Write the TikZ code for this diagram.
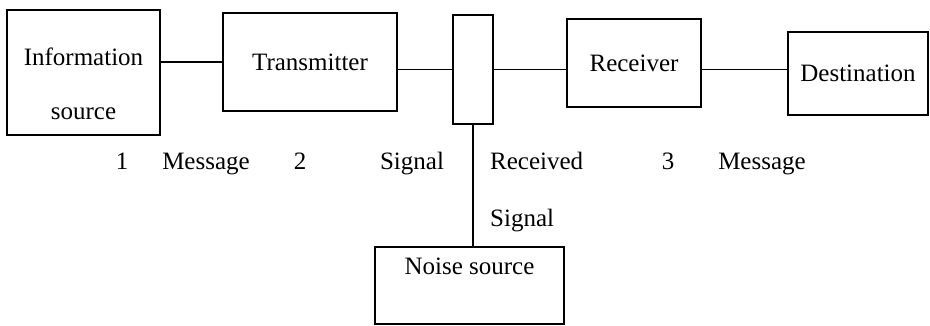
\documentclass[tikz,border=0pt]{standalone}
\usepackage{fontspec}
\setmainfont{Liberation Serif}
\usetikzlibrary{positioning,calc}

\begin{document}
\begin{tikzpicture}[
    x=1pt, y=-1pt,
    font=\fontsize{25}{30}\selectfont,
    block/.style={draw, line width=2pt, inner sep=0pt, align=center},
    tag/.style={inner sep=0pt, anchor=base},
    wire/.style={line width=1.2pt}
]
\useasboundingbox (0,0) rectangle (930,326);
\node[block, minimum width=153pt, minimum height=125pt, text height=94pt] (info) at (83.5,72.5) {Information\\[24pt]source};
\node[block, minimum width=174pt, minimum height=98pt] (trans) at (310,62) {Transmitter};
\node[block, minimum width=40pt, minimum height=109pt] (junc) at (473,69.5) {};
\node[block, minimum width=134pt, minimum height=88pt] (recv) at (634,63) {Receiver};
\node[block, minimum width=140pt, minimum height=83pt] (dest) at (858,73.5) {Destination};
\node[block, minimum width=189pt, minimum height=77pt, text depth=39pt] (noise) at (469.5,285.5) {Noise source};

\node[tag] (one) at (122,170) {1};
\node[tag] (msgin) at (206,170) {Message};
\node[tag] (two) at (300,170) {2};
\node[tag] (sig) at (412,170) {Signal};
\node[tag, anchor=base west] (rcvd) at (490,170) {Received};
\node[tag] (three) at (668,170) {3};
\node[tag] (msgout) at (762,170) {Message};
\node[tag, anchor=base west] (rsig) at (490,227) {Signal};

\draw[wire] (trans.west) -- (trans.west -| info.east);
\draw[wire] (junc.west) -- (junc.west -| trans.east);
\draw[wire] (junc.east) -- (junc.east -| recv.west);
\draw[wire] (junc.east -| recv.east) -- (junc.east -| dest.west);
\draw[wire] (junc.south) -- (junc.south |- noise.north);
\end{tikzpicture}
\end{document}
